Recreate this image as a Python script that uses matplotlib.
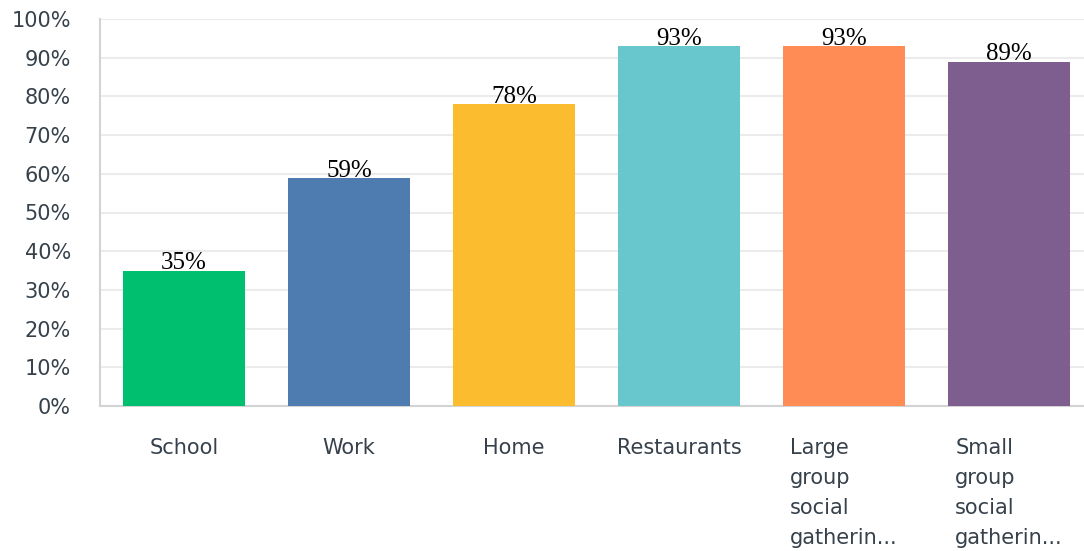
import matplotlib
matplotlib.use("Agg")
import matplotlib.pyplot as plt
from matplotlib.ticker import MultipleLocator, FuncFormatter

categories = ["School", "Work", "Home", "Restaurants",
              "Large\ngroup\nsocial\ngatherin...",
              "Small\ngroup\nsocial\ngatherin..."]
values = [35, 59, 78, 93, 93, 89]
bar_colors = ["#00bf6f", "#4e7cb1", "#fbbd2f", "#67c7cd", "#ff8b55", "#7e5e8e"]

fig = plt.figure(figsize=(10.84, 5.51), dpi=100)
ax = fig.add_axes([100 / 1084, 1 - 406 / 551, 984 / 1084, 387 / 551])

x = list(range(len(categories)))
ax.bar(x, values, width=0.74, color=bar_colors, zorder=3)

for xi, v in zip(x, values):
    ax.text(xi, v - 1.0, f"{v}%", ha="center", va="bottom",
            fontsize=18, family="Liberation Serif", color="#000000", zorder=4)

ax.set_ylim(0, 100)
ax.set_xlim(-0.51, 5.455)
ax.yaxis.set_major_locator(MultipleLocator(10))
ax.yaxis.set_major_formatter(FuncFormatter(lambda v, p: f"{int(v)}%"))
ax.grid(axis="y", color="#ebebeb", linewidth=1.5, zorder=0)
ax.set_axisbelow(True)

ax.set_xticks(x)
ax.set_xticklabels(categories, multialignment="left", linespacing=1.62,
                   va="top")
tick_color = "#36414b"
ax.tick_params(axis="y", length=0, pad=21, labelsize=15, labelcolor=tick_color)
ax.tick_params(axis="x", length=0, pad=23, labelsize=15, labelcolor=tick_color)
for lbl in ax.get_xticklabels() + ax.get_yticklabels():
    lbl.set_family("DejaVu Sans")

for side in ("top", "right"):
    ax.spines[side].set_visible(False)
ax.spines["left"].set_color("#d3d3d3")
ax.spines["left"].set_linewidth(1.5)
ax.spines["bottom"].set_color("#d3d3d3")
ax.spines["bottom"].set_linewidth(1.5)

fig.savefig("out.png", dpi=100)
